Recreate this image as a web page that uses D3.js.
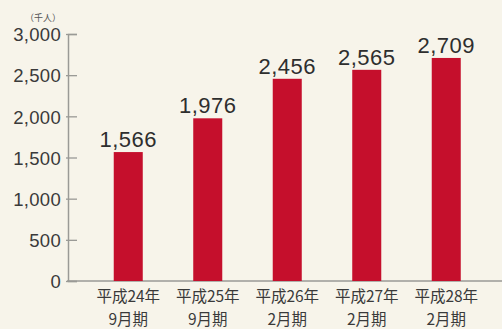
<!DOCTYPE html>
<html>
<head>
<meta charset="utf-8">
<script src="https://cdn.jsdelivr.net/npm/d3@7"></script>
<style>
  html, body { margin: 0; padding: 0; background: #f7f4ea; }
  svg { display: block; }
</style>
</head>
<body>
<svg width="502" height="329"></svg>
<script>
var periods = ["平成24年", "平成25年", "平成26年", "平成27年", "平成28年"],
    terms = ["9月期", "9月期", "2月期", "2月期", "2月期"],
    members = [1566, 1976, 2456, 2565, 2709],
    yTicks = [0, 500, 1000, 1500, 2000, 2500, 3000];

var svg = d3.select("svg"),
    width = +svg.attr("width"),
    height = +svg.attr("height");

var numFont = "'Liberation Sans', Arial, sans-serif",
    jpFont = "'Noto Sans CJK JP', sans-serif";

svg.append("rect").attr("width", width).attr("height", height).attr("fill", "#f7f4ea");

var x = d3.scaleBand()
    .domain(d3.range(periods.length))
    .range([88.5, 486])
    .paddingInner(0.635)
    .paddingOuter(0.3175);

var y = d3.scaleLinear()
    .domain([0, 3000])
    .range([281, 34]);

var fmt = d3.format(",");

// y axis
var yAxis = svg.append("g")
    .attr("transform", "translate(68,0)")
    .call(d3.axisLeft(y).tickValues(yTicks).tickFormat(fmt).tickSize(-9).tickPadding(7));
yAxis.select(".domain").attr("stroke", "#9a9a96").attr("stroke-width", 1.5);
yAxis.selectAll(".tick line").attr("stroke", "#9a9a96").attr("stroke-width", 1.3).attr("x1", -2);
yAxis.selectAll(".tick text")
    .attr("fill", "#3a3a3a")
    .style("font-family", numFont)
    .style("font-size", "18.5px")
    .style("letter-spacing", "0.3px")
    .attr("dy", "0.36em");

// unit
svg.append("text")
    .attr("x", 61).attr("y", 21)
    .attr("text-anchor", "end")
    .attr("fill", "#555")
    .style("font-family", jpFont)
    .style("font-size", "9px")
    .text("（千人）");

// baseline
svg.append("line")
    .attr("x1", 67).attr("x2", width)
    .attr("y1", y(0)).attr("y2", y(0))
    .attr("stroke", "#9a9a96").attr("stroke-width", 1.5);

// bars
svg.append("g").selectAll("rect")
  .data(members)
  .enter().append("rect")
    .attr("x", (d, i) => x(i))
    .attr("y", d => y(d))
    .attr("width", x.bandwidth())
    .attr("height", d => y(0) - y(d))
    .attr("fill", "#c50f2c");

// value labels
svg.append("g").selectAll("text")
  .data(members)
  .enter().append("text")
    .attr("x", (d, i) => x(i) + x.bandwidth() / 2)
    .attr("y", d => y(d) - 5)
    .attr("text-anchor", "middle")
    .attr("fill", "#2e2e2e")
    .style("font-family", numFont)
    .style("font-size", "22px")
    .style("letter-spacing", "0.5px")
    .text(d => fmt(d));

// category labels
var cat = svg.append("g").selectAll("text")
  .data(periods)
  .enter().append("text")
    .attr("text-anchor", "middle")
    .attr("fill", "#3a3a3a")
    .style("font-family", jpFont)
    .style("font-size", "15.5px");
cat.append("tspan")
    .attr("x", (d, i) => x(i) + x.bandwidth() / 2)
    .attr("y", 302)
    .text(d => d);
cat.append("tspan")
    .attr("x", (d, i) => x(i) + x.bandwidth() / 2)
    .attr("y", 325)
    .text((d, i) => terms[i]);
</script>
</body>
</html>
